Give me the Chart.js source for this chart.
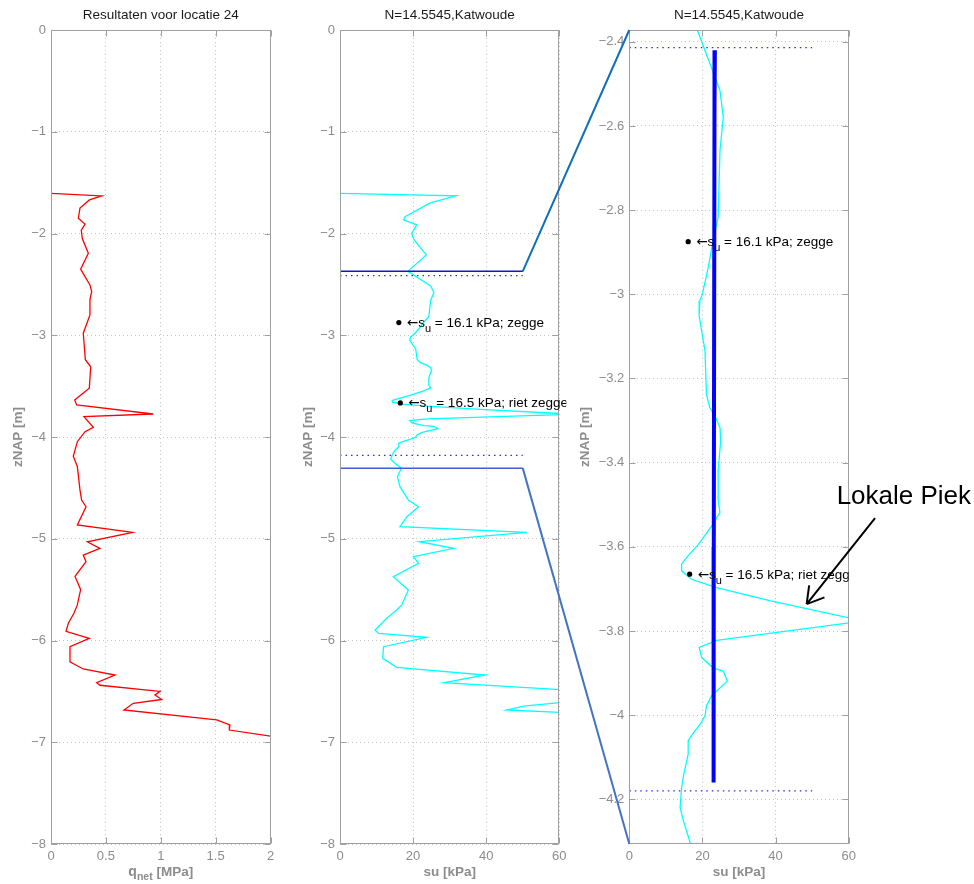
<!DOCTYPE html>
<html lang="nl">
<head>
<meta charset="UTF-8">
<title>Resultaten voor locatie 24 — Katwoude</title>
<script src="https://cdn.jsdelivr.net/npm/chart.js@4.4.0/dist/chart.umd.min.js"></script>
<style>
  html, body { margin: 0; padding: 0; background: #fff; }
  #stage { position: relative; width: 974px; height: 884px; }
  #stage canvas { position: absolute; left: 0; top: 0; }
</style>
</head>
<body>
<div id="stage">
  <canvas id="qnetChart" width="974" height="884"></canvas>
  <canvas id="suChart" width="974" height="884"></canvas>
  <canvas id="zoomChart" width="974" height="884"></canvas>
</div>
<script>
// ── sondering: diepte (m NAP) en netto conusweerstand (MPa) ──────────────────
const qnetDepth = [-1.605, -1.631, -1.67, -1.75, -1.85, -1.907, -1.966, -2.05, -2.195, -2.35,
  -2.506, -2.57, -2.65, -2.80, -2.98, -3.24, -3.31, -3.52, -3.636, -3.685,
  -3.774, -3.80, -3.905, -3.948, -4.046, -4.19, -4.29, -4.52, -4.62, -4.685,
  -4.865, -4.937, -5.03, -5.095, -5.16, -5.225, -5.37, -5.50, -5.65, -5.73,
  -5.83, -5.91, -5.98, -6.06, -6.21, -6.28, -6.34, -6.415, -6.44, -6.50,
  -6.535, -6.58, -6.617, -6.683, -6.78, -6.83, -6.88, -6.94, -6.97]
const qnetValue = [0, 0.462, 0.35, 0.264, 0.249, 0.31, 0.276, 0.285, 0.34, 0.27,
  0.355, 0.371, 0.355, 0.355, 0.294, 0.313, 0.362, 0.349, 0.216, 0.234,
  0.932, 0.30, 0.386, 0.31, 0.24, 0.203, 0.24, 0.264, 0.279, 0.319,
  0.24, 0.744, 0.331, 0.446, 0.294, 0.319, 0.219, 0.27, 0.24, 0.21,
  0.158, 0.137, 0.349, 0.173, 0.173, 0.294, 0.583, 0.416, 0.446, 0.993,
  0.948, 1.009, 0.75, 0.665, 1.51, 1.63, 1.625, 2.0, 2.15]

// ── ongedraineerde schuifsterkte su (kPa) ────────────────────────────────────
const suDepth = [-1.605, -1.63, -1.70, -1.835, -1.867, -1.916, -1.998, -2.064, -2.21, -2.372,
  -2.472, -2.516, -2.579, -2.658, -2.817, -2.872, -2.936, -2.999, -3.015, -3.051,
  -3.134, -3.237, -3.269, -3.289, -3.316, -3.348, -3.419, -3.491, -3.518, -3.546,
  -3.594, -3.625, -3.641, -3.657, -3.677, -3.697, -3.728, -3.776, -3.822, -3.839,
  -3.863, -3.888, -3.895, -3.919, -3.954, -3.978, -4.002, -4.022, -4.053, -4.061,
  -4.093, -4.140, -4.172, -4.220, -4.251, -4.307, -4.39, -4.488, -4.619, -4.685,
  -4.783, -4.881, -4.937, -5.029, -5.094, -5.176, -5.241, -5.373, -5.504, -5.651,
  -5.70, -5.782, -5.897, -5.93, -5.969, -6.061, -6.175, -6.264, -6.339, -6.415,
  -6.50, -6.535, -6.58, -6.644, -6.683, -6.78, -6.83, -6.88, -6.94]
const suValue = [0, 31.7, 24.7, 17.8, 17.4, 21.0, 19.6, 20.3, 23.6, 18.6,
  22.9, 24.8, 25.7, 24.8, 24.3, 22.9, 21.6, 20.0, 19.3, 19.1,
  20.7, 21.1, 22.0, 23.4, 24.8, 25.0, 24.3, 24.3, 24.8, 22.9,
  18.9, 15.7, 14.3, 14.3, 17.0, 23.9, 38.4, 64, 23.9, 19.1,
  19.8, 23.0, 25.7, 26.8, 22.5, 21.1, 20.7, 19.3, 16.6, 16.1,
  16.1, 14.9, 14.3, 13.9, 14.8, 16.8, 15.7, 16.4, 18.7, 21.5,
  18.3, 16.4, 51.1, 21.7, 31.1, 20.1, 21.5, 14.6, 18.7, 16.9,
  15.5, 12.8, 9.6, 10.5, 23.7, 11.9, 11.7, 15.5, 39.7, 28.5,
  68, 65, 69, 50.2, 45.6, 104, 112, 111.6, 137]

// gemiddelde su over de laag (dikke lijn)
const meanDepth = [-2.42, -2.55, -3.60, -4.16]
const meanSu    = [23.4, 23.3, 23.1, 23.05]

// laaggrenzen (gestippeld) en uitsnede van het middelste paneel
const layerBounds = [-2.414, -4.18]
const zoomWindow  = [-2.372, -4.306]
const zoomWidth   = [0, 50]

// punten met su-waarde en grondsoort
const noteSu    = [16.1, 16.5]
const noteDepth = [-2.875, -3.665]
const noteSoil  = ['zegge', 'riet zegge']

// asverdeling
const depthTicks = [0, -1, -2, -3, -4, -5, -6, -7, -8]
const zoomTicks  = [-2.4, -2.6, -2.8, -3, -3.2, -3.4, -3.6, -3.8, -4, -4.2]
const qnetTicks  = [0, 0.5, 1, 1.5, 2]
const suTicks    = [0, 20, 40, 60]

const callout = { text: 'Lokale Piek', at: [56.7, -3.498], tail: [67.2, -3.532], tip: [48.5, -3.736] }

// ── stijl ─────────────────────────────────────────────────────────────────────
const FAMILY = "'Liberation Sans', Arial, Helvetica, sans-serif"
const AXIS_GREY = '#8c8c8c'
const FRAME = '#a0a0a0'
const GRID = '#c4c4c4'
Chart.defaults.font.family = FAMILY

const pts = (xs, ys) => xs.map((x, i) => ({ x, y: ys[i] }))
const fmt = v => String(+v.toFixed(2)).replace('-', '\u2212')
const font = (size, bold) => `${bold ? 'bold ' : ''}${size}px ${FAMILY}`

let overview = null   // middelste paneel, nodig voor de verbindingslijnen

const matlabAxes = {
  id: 'matlabAxes',
  afterDatasetsDraw(chart) {
    const { ctx, chartArea: a, scales: { x, y } } = chart
    const L = Math.round(a.left) + 0.5, R = Math.round(a.right) - 0.5
    const T = Math.round(a.top) + 0.5, B = Math.round(a.bottom) - 0.5
    ctx.save()
    ctx.strokeStyle = FRAME
    ctx.lineWidth = 1
    ctx.strokeRect(L, T, R - L, B - T)
    ctx.beginPath()
    for (const t of x.ticks) {
      const px = Math.round(x.getPixelForValue(t.value)) + 0.5
      ctx.moveTo(px, B); ctx.lineTo(px, B - 6)
      ctx.moveTo(px, T); ctx.lineTo(px, T + 6)
    }
    for (const t of y.ticks) {
      const py = Math.round(y.getPixelForValue(t.value)) + 0.5
      ctx.moveTo(L, py); ctx.lineTo(L + 6, py)
      ctx.moveTo(R, py); ctx.lineTo(R - 6, py)
    }
    ctx.stroke()
    ctx.restore()
  },
  afterDraw(chart, args, o) {
    const { ctx, chartArea: a, scales: { x, y } } = chart
    ctx.save()
    ctx.fillStyle = '#1a1a1a'
    ctx.font = font(13.5)
    ctx.textAlign = 'center'
    ctx.textBaseline = 'alphabetic'
    ctx.fillText(o.title, (a.left + a.right) / 2, 19)

    if (o.qnetLabel) {
      // q_net [MPa] met subscript
      ctx.fillStyle = AXIS_GREY
      ctx.textAlign = 'left'
      const parts = [['q', font(14, true), 0], ['net', font(10.5, true), 4], [' [MPa]', font(13.5, true), 0]]
      let w = 0
      for (const [s, f] of parts) { ctx.font = f; w += ctx.measureText(s).width }
      let cx = (a.left + a.right) / 2 - w / 2
      for (const [s, f, dy] of parts) { ctx.font = f; ctx.fillText(s, cx, 876 + dy); cx += ctx.measureText(s).width }
    }

    if (o.notes) {
      ctx.beginPath()
      ctx.rect(a.left - 80, 0, a.right + o.noteOverhang - (a.left - 80), chart.height)
      ctx.clip()
      ctx.fillStyle = '#000'
      ctx.textAlign = 'left'
      noteSu.forEach((v, i) => {
        const px = x.getPixelForValue(v), py = y.getPixelForValue(noteDepth[i])
        let tx = px + 8
        const base = py + 4.5
        ctx.font = "13.5px 'DejaVu Sans', sans-serif"
        ctx.fillText('\u2190', tx, base); tx += ctx.measureText('\u2190').width
        ctx.font = font(13.5); ctx.fillText('s', tx, base); tx += ctx.measureText('s').width
        ctx.font = font(11); ctx.fillText('u', tx, base + 5); tx += ctx.measureText('u').width
        ctx.font = font(13.5); ctx.fillText(` = ${v.toFixed(1)} kPa; ${noteSoil[i]}`, tx, base)
      })
    }
    ctx.restore()

    if (o.zoomLinks && overview) {
      const ox = overview.scales.x, oy = overview.scales.y
      const links = [[zoomWindow[0], '#0f6fb8'], [zoomWindow[1], '#4472c4']]
      ctx.save()
      ctx.lineWidth = 2
      for (const [z, c] of links) {
        ctx.strokeStyle = c
        ctx.beginPath()
        ctx.moveTo(ox.getPixelForValue(zoomWidth[1]), oy.getPixelForValue(z))
        ctx.lineTo(x.getPixelForValue(zoomWidth[0]), y.getPixelForValue(z))
        ctx.stroke()
      }
      ctx.restore()
    }

    if (o.callout) {
      const [tx, ty] = [x.getPixelForValue(callout.tip[0]), y.getPixelForValue(callout.tip[1])]
      const [sx, sy] = [x.getPixelForValue(callout.tail[0]), y.getPixelForValue(callout.tail[1])]
      ctx.save()
      ctx.fillStyle = '#000'
      ctx.font = font(26)
      ctx.textAlign = 'left'
      ctx.fillText(callout.text, x.getPixelForValue(callout.at[0]), y.getPixelForValue(callout.at[1]))
      ctx.strokeStyle = '#000'
      ctx.lineWidth = 2
      const ang = Math.atan2(sy - ty, sx - tx)
      ctx.beginPath()
      ctx.moveTo(sx, sy); ctx.lineTo(tx, ty)
      for (const d of [-0.54, 0.54]) {
        ctx.moveTo(tx, ty)
        ctx.lineTo(tx + 19 * Math.cos(ang + d), ty + 19 * Math.sin(ang + d))
      }
      ctx.stroke()
      ctx.restore()
    }
  }
}

function axis(ticks, min, max, extra) {
  return Object.assign({
    type: 'linear', min, max,
    afterBuildTicks: s => { s.ticks = ticks.map(v => ({ value: v })) },
    grid: { color: GRID, lineWidth: 1, drawTicks: false },
    border: { display: false, dash: [1, 3] },
    ticks: { color: AXIS_GREY, font: { size: 13 }, padding: 5, maxRotation: 0, callback: v => fmt(v) }
  }, extra)
}

function panel(id, p, datasets, yTicks, yMin, yMax, xTicks, xMax, xTitle, plug) {
  return new Chart(document.getElementById(id), {
    type: 'scatter',
    data: { datasets },
    options: {
      responsive: false, animation: false, events: [], devicePixelRatio: 1,
      layout: { padding: { left: p.axisLeft, right: 974 - p.plotRight, top: 30, bottom: 0 } },
      plugins: { legend: { display: false }, tooltip: { enabled: false }, matlabAxes: plug },
      scales: {
        x: axis(xTicks, 0, xMax, {
          afterFit: s => { s.height = 40 },
          title: { display: !!xTitle, text: xTitle, color: AXIS_GREY, font: { size: 13.5, weight: 'bold' }, padding: { top: 0, bottom: 4 } }
        }),
        y: axis(yTicks, yMin, yMax, {
          afterFit: s => { s.width = p.plotLeft - p.axisLeft },
          title: { display: true, text: 'zNAP [m]', color: AXIS_GREY, font: { size: 13.5, weight: 'bold' }, padding: { top: 10, bottom: 0 } }
        })
      }
    },
    plugins: [matlabAxes]
  })
}

const line = (data, color, width, extra) => Object.assign({
  data, showLine: true, borderColor: color, borderWidth: width, pointRadius: 0, fill: false
}, extra)
const hline = (z, color, width, dash) => line(pts(zoomWidth, [z, z]), color, width, dash ? { borderDash: dash } : {})
const noteDots = () => ({ data: pts(noteSu, noteDepth), showLine: false, pointRadius: 2.6, pointBackgroundColor: '#000', pointBorderWidth: 0 })

panel('qnetChart', { axisLeft: 0, plotLeft: 51, plotRight: 270.5 },
  [line(pts(qnetValue, qnetDepth), '#ff0000', 1.3)],
  depthTicks, -8, 0, qnetTicks, 2, '',
  { title: 'Resultaten voor locatie 24', qnetLabel: true })

overview = panel('suChart', { axisLeft: 290, plotLeft: 340, plotRight: 559.3 },
  [noteDots(),
   hline(zoomWindow[0], '#1414c8', 1.5),
   hline(zoomWindow[1], '#3f5fcf', 1.5),
   hline(layerBounds[0], '#2a2aff', 1.3, [1.5, 4]),
   hline(layerBounds[1], '#2a2aff', 1.3, [1.5, 4]),
   line(pts(suValue, suDepth), '#00ffff', 1.3)],
  depthTicks, -8, 0, suTicks, 60, 'su [kPa]',
  { title: 'N=14.5545,Katwoude', notes: true, noteOverhang: 7 })

panel('zoomChart', { axisLeft: 567, plotLeft: 629.3, plotRight: 848.7 },
  [noteDots(),
   line(pts(meanSu, meanDepth), '#0000ff', 4),
   hline(zoomWindow[0], '#1e3fd8', 2),
   hline(zoomWindow[1], '#6c7fe6', 2),
   hline(layerBounds[0], '#2a2aff', 1.3, [1.5, 4]),
   hline(layerBounds[1], '#2a2aff', 1.3, [1.5, 4]),
   line(pts(suValue, suDepth), '#00ffff', 1.3)],
  zoomTicks, zoomWindow[1], zoomWindow[0], suTicks, 60, 'su [kPa]',
  { title: 'N=14.5545,Katwoude', notes: true, noteOverhang: 0, zoomLinks: true, callout: true })
</script>
</body>
</html>
